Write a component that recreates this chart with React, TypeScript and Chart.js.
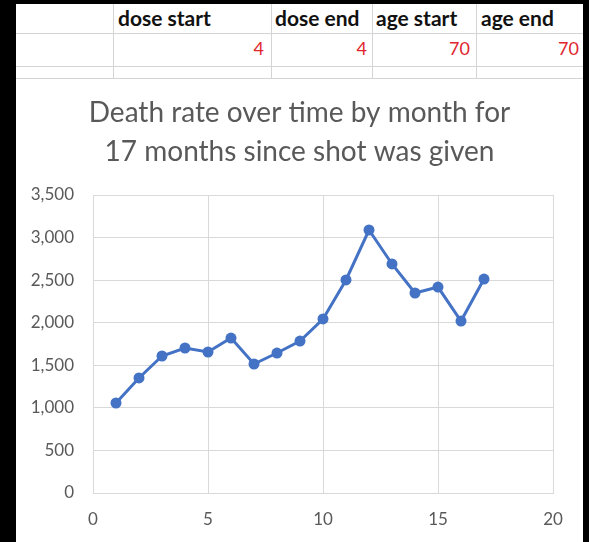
import React, { useEffect, useRef } from "react";
import { Chart, registerables } from "chart.js";

Chart.register(...registerables);

const months = [1, 2, 3, 4, 5, 6, 7, 8, 9, 10, 11, 12, 13, 14, 15, 16, 17];
const deaths = [1057, 1351, 1609, 1703, 1656, 1820, 1515, 1644, 1785, 2044, 2502, 3089, 2690, 2349, 2419, 2020, 2513];
const titleLines = ["Death rate over time by month for", "17 months since shot was given"];
const headerLabels = ["dose start", "dose end", "age start", "age end"];
const headerValues = ["4", "4", "70", "70"];

const FONT = "Lato, 'Open Sans', sans-serif";

export default function App() {
  const ref = useRef<HTMLCanvasElement | null>(null);

  useEffect(() => {
    if (!ref.current) return;
    const chart = new Chart(ref.current, {
      type: "line",
      data: {
        datasets: [
          {
            data: months.map((m, i) => ({ x: m, y: deaths[i] })),
            borderColor: "#4472C4",
            backgroundColor: "#4472C4",
            borderWidth: 3,
            pointRadius: 5.5,
            pointBorderWidth: 0,
            pointBackgroundColor: "#4472C4",
            tension: 0,
          },
        ],
      },
      options: {
        responsive: false,
        animation: false,
        devicePixelRatio: 1,
        layout: { padding: { left: 0, right: 0, top: 0, bottom: 0 } },
        plugins: {
          legend: { display: false },
          tooltip: { enabled: false },
          title: {
            display: true,
            text: titleLines,
            color: "#595959",
            font: { family: FONT, size: 28, weight: "normal", lineHeight: 1.393 },
            padding: { top: 14.5, bottom: 23.5 },
          },
        },
        scales: {
          x: {
            type: "linear",
            min: 0,
            max: 20,
            ticks: { stepSize: 5, color: "#595959", font: { family: FONT, size: 17 }, padding: 16 },
            grid: { color: "#d9d9d9", drawTicks: false, lineWidth: 1 },
            border: { color: "#d9d9d9" },
            afterFit: (s: any) => {
              s.height = 49;
            },
          },
          y: {
            type: "linear",
            min: 0,
            max: 3500,
            ticks: {
              stepSize: 500,
              color: "#595959",
              font: { family: FONT, size: 17 },
              padding: 19,
              callback: (v: any) => Number(v).toLocaleString("en-US"),
            },
            grid: { color: "#d9d9d9", drawTicks: false, lineWidth: 1 },
            border: { color: "#d9d9d9" },
            afterFit: (s: any) => {
              s.width = 77;
            },
          },
          yRight: {
            type: "linear",
            position: "right",
            display: true,
            min: 0,
            max: 3500,
            ticks: { display: false },
            grid: { display: false, drawTicks: false },
            border: { display: false },
            afterFit: (s: any) => {
              s.width = 30;
            },
          },
        },
      },
    });
    return () => chart.destroy();
  }, []);

  const colLines = [113, 271, 372, 476];
  const rowLines = [33, 66, 78];
  const labelX = [118, 275, 376, 481];
  const valueRight = [264, 367, 470, 579];

  return (
    <div style={{ position: "fixed", left: 0, top: 0, width: 589, height: 542, background: "#000", overflow: "hidden" }}>
      <div style={{ position: "absolute", left: 16, top: 4, width: 567, height: 538, background: "#fff" }} />
      {rowLines.map((y, i) => (
        <div key={"r" + i} style={{ position: "absolute", left: 16, top: y, width: 567, height: 1, background: "#d4d4d4" }} />
      ))}
      {colLines.map((x, i) => (
        <div key={"c" + i} style={{ position: "absolute", left: x, top: 4, width: 1, height: 74, background: "#d4d4d4" }} />
      ))}
      {headerLabels.map((t, i) => (
        <div
          key={"h" + i}
          style={{
            position: "absolute",
            left: labelX[i],
            top: 5,
            fontFamily: FONT,
            fontWeight: "bold",
            fontSize: 21,
            lineHeight: "26px",
            color: "#111",
            whiteSpace: "nowrap",
          }}
        >
          {t}
        </div>
      ))}
      {headerValues.map((t, i) => (
        <div
          key={"v" + i}
          style={{
            position: "absolute",
            left: valueRight[i] - 60,
            width: 60,
            textAlign: "right",
            top: 37,
            fontFamily: FONT,
            fontSize: 18,
            lineHeight: "22px",
            color: "#e0262d",
          }}
        >
          {t}
        </div>
      ))}
      <canvas ref={ref} width={567} height={463} style={{ position: "absolute", left: 16, top: 79, width: 567, height: 463 }} />
    </div>
  );
}
